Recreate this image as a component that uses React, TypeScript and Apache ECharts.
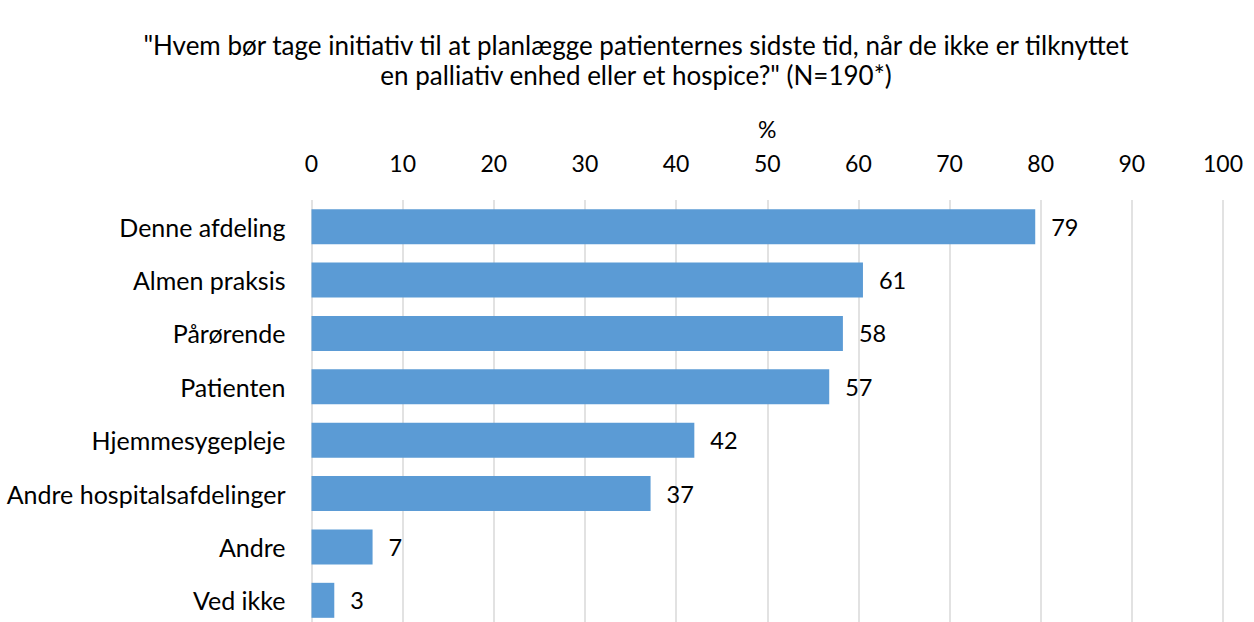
import React, { useEffect, useRef } from "react";
import * as echarts from "echarts";

const categories = [
  "Denne afdeling",
  "Almen praksis",
  "Pårørende",
  "Patienten",
  "Hjemmesygepleje",
  "Andre hospitalsafdelinger",
  "Andre",
  "Ved ikke",
];
const values = [79.4, 60.5, 58.3, 56.8, 42.0, 37.2, 6.7, 2.5];
const titleLines = [
  "\"Hvem bør tage initiativ til at planlægge patienternes sidste tid, når de ikke er tilknyttet",
  "en palliativ enhed eller et hospice?\" (N=190*)",
];
const axisName = "%";

const FONT = "Lato";

export default function App() {
  const ref = useRef<HTMLDivElement>(null);
  useEffect(() => {
    document.body.style.margin = "0";
    const chart = echarts.init(ref.current!, null, { renderer: "svg" });
    chart.setOption({
      animation: false,
      backgroundColor: "#ffffff",
      title: {
        text: titleLines.join("\n"),
        left: 631,
        textAlign: "center",
        top: 25,
        textStyle: {
          fontFamily: FONT,
          fontSize: 26,
          fontWeight: "normal",
          color: "#000",
          lineHeight: 30,
        },
      },
      grid: { left: 311.5, right: 1254 - 1223, top: 200, height: 427 },
      xAxis: {
        type: "value",
        position: "top",
        min: 0,
        max: 100,
        interval: 10,
        name: axisName,
        nameLocation: "middle",
        nameGap: 60,
        nameTextStyle: { fontFamily: FONT, fontSize: 23, color: "#000" },
        axisLine: { show: false },
        axisTick: { show: false },
        axisLabel: { fontFamily: FONT, fontSize: 23, color: "#000", margin: 26 },
        splitLine: { show: true, lineStyle: { color: "#d9d9d9", width: 1.5 } },
      },
      yAxis: {
        type: "category",
        inverse: true,
        data: categories,
        axisLine: { show: false },
        axisTick: { show: false },
        axisLabel: { fontFamily: FONT, fontSize: 25, color: "#000", margin: 26 },
      },
      series: [
        {
          type: "bar",
          data: values,
          barWidth: 35,
          itemStyle: { color: "#5b9bd5" },
          label: {
            show: true,
            position: "right",
            distance: 16,
            fontFamily: FONT,
            fontSize: 23.5,
            color: "#000",
            formatter: (p: any) => String(Math.round(p.value)),
          },
        },
      ],
    });
    return () => chart.dispose();
  }, []);
  return (
    <div style={{ width: 1254, height: 622, overflow: "hidden" }}>
      <div ref={ref} style={{ width: 1254, height: 640 }} />
    </div>
  );
}
